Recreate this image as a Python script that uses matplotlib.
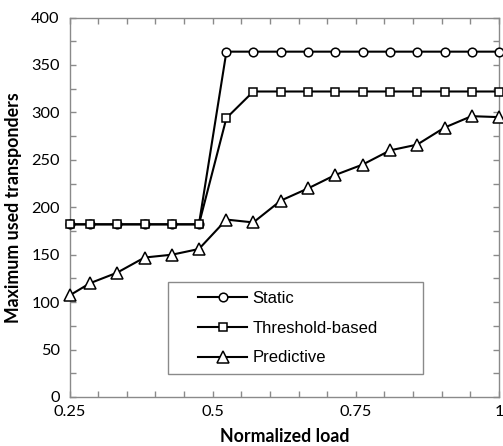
import matplotlib
matplotlib.use("Agg")
import matplotlib.pyplot as plt
import matplotlib.ticker as mticker
from matplotlib.patches import Rectangle

# normalized load points (0.25, then k/21 for k = 6..21)
load = [0.25, 0.286, 0.333, 0.381, 0.429, 0.476, 0.524, 0.571, 0.619,
        0.667, 0.714, 0.762, 0.810, 0.857, 0.905, 0.952, 1.0]
static = [182, 182, 182, 182, 182, 182, 364, 364, 364,
          364, 364, 364, 364, 364, 364, 364, 364]
threshold = [182, 182, 182, 182, 182, 182, 294, 322, 322,
             322, 322, 322, 322, 322, 322, 322, 322]
predictive = [107, 120, 131, 147, 150, 156, 187, 184, 207,
              220, 234, 245, 260, 266, 284, 296, 295]

labels = ["Static", "Threshold-based", "Predictive"]
markers = ["o", "s", "^"]
msizes = [6.2, 6.0, 8.0]

GRAY = "#8a8a8a"
TICK_FONT = "Lato"

fig = plt.figure(figsize=(5.03, 4.46), dpi=100)
ax = fig.add_axes([69.5 / 503, 1 - 397 / 446, (499 - 69.5) / 503, (397 - 17.5) / 446])

handles = []
for ys, lab, mk, ms in zip([static, threshold, predictive], labels, markers, msizes):
    h, = ax.plot(load, ys, color="black", linewidth=1.5, marker=mk,
                 markersize=ms, markerfacecolor="white",
                 markeredgecolor="black", markeredgewidth=1.1,
                 label=lab, clip_on=False, zorder=3)
    handles.append(h)

ax.set_xlim(0.25, 1.0)
ax.set_ylim(0, 400)
ax.xaxis.set_major_locator(mticker.FixedLocator([0.25, 0.5, 0.75, 1.0]))
ax.xaxis.set_major_formatter(mticker.FixedFormatter(["0.25", "0.5", "0.75", "1"]))
ax.xaxis.set_minor_locator(mticker.MultipleLocator(0.05))
ax.yaxis.set_major_locator(mticker.MultipleLocator(50))
ax.yaxis.set_minor_locator(mticker.MultipleLocator(25))

for s in ax.spines.values():
    s.set_color(GRAY)
    s.set_linewidth(1.0)

ax.tick_params(which="both", direction="in", top=True, right=True,
               color=GRAY, width=1.0, length=4)
ax.tick_params(axis="y", which="major", pad=7, labelsize=11.8)
ax.tick_params(axis="x", which="major", pad=6, labelsize=11.8)
for t in ax.get_xticklabels() + ax.get_yticklabels():
    t.set_fontfamily(TICK_FONT)

ax.set_xlabel("Normalized load", fontsize=12.8, fontweight="bold",
              fontfamily=TICK_FONT, labelpad=6)
ax.set_ylabel("Maximum used transponders", fontsize=12.8, fontweight="bold",
              fontfamily=TICK_FONT, labelpad=7)

# legend frame drawn separately (wide left padding in the original)
fig.patches.append(Rectangle((168 / 503, 1 - 374 / 446), (423 - 168) / 503,
                             (374 - 281.7) / 446, transform=fig.transFigure,
                             facecolor="white", edgecolor=GRAY, linewidth=1.0,
                             zorder=5))
leg = fig.legend(handles=handles, loc="upper left",
                 bbox_to_anchor=(198 / 503, 1 - 291 / 446), frameon=False,
                 borderpad=0, borderaxespad=0, handlelength=2.95,
                 handletextpad=0.3, labelspacing=0.88,
                 prop={"family": "Liberation Sans", "size": 12})
leg.set_zorder(6)

fig.savefig("out.png", dpi=100)
